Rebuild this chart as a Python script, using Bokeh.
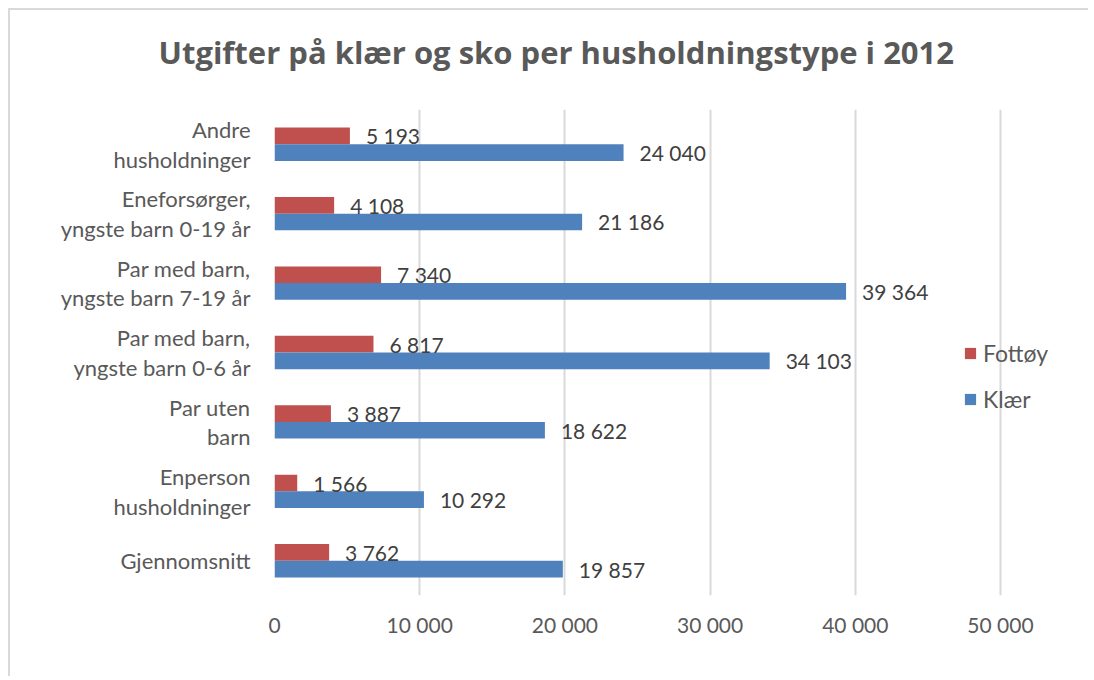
from bokeh.plotting import figure
from bokeh.models import ColumnDataSource, FixedTicker, Legend, LegendItem, Title
from bokeh.transform import dodge
from bokeh.core.properties import value
from bokeh.embed import file_html
from bokeh.resources import INLINE

# ---- data ----
categories = [
    "Gjennomsnitt",
    "Enperson\nhusholdninger",
    "Par uten\nbarn",
    "Par med barn,\nyngste barn 0-6 år",
    "Par med barn,\nyngste barn 7-19 år",
    "Eneforsørger,\nyngste barn 0-19 år",
    "Andre\nhusholdninger",
]
fottoy = [3762, 1566, 3887, 6817, 7340, 4108, 5193]
klaer = [19857, 10292, 18622, 34103, 39364, 21186, 24040]
x_ticks = [0, 10000, 20000, 30000, 40000, 50000]
x_tick_labels = ["0", "10 000", "20 000", "30 000", "40 000", "50 000"]
title_text = "Utgifter på klær og sko per husholdningstype i 2012"
series_names = ["Fottøy", "Klær"]

RED = "#C0504D"
BLUE = "#4F81BD"
GRID = "#d9d9d9"
TXT = "#595959"
FONT = "Lato"


def fmt(v):
    return f"{v:,}".replace(",", " ")


src = ColumnDataSource(dict(
    cat=categories,
    fottoy=fottoy,
    klaer=klaer,
    fottoy_lbl=[fmt(v) for v in fottoy],
    klaer_lbl=[fmt(v) for v in klaer],
))

p = figure(
    width=1080, height=668,
    y_range=categories,
    x_range=(0, 56198),
    title=None,
    output_backend="svg",
    toolbar_location=None,
    min_border_left=264, min_border_right=0,
    min_border_top=98, min_border_bottom=83,
)
p.styles = {"margin-left": "8px", "margin-top": "8px",
            "border-left": "2px solid #d9d9d9", "border-top": "2px solid #d9d9d9"}
p.outline_line_color = None
p.background_fill_color = "white"
p.border_fill_color = "white"

bar_h = 0.24
r_f = p.hbar(y=dodge("cat", bar_h / 2, range=p.y_range), right="fottoy", left=0,
             height=bar_h, source=src, fill_color=RED, line_color=None)
r_k = p.hbar(y=dodge("cat", -bar_h / 2, range=p.y_range), right="klaer", left=0,
             height=bar_h, source=src, fill_color=BLUE, line_color=None)

p.text(x="fottoy", y=dodge("cat", bar_h / 2, range=p.y_range), text="fottoy_lbl",
       source=src, x_offset=16, text_baseline="middle", text_align="left",
       text_font=value(FONT), text_font_size="21px", text_color="#404040")
p.text(x="klaer", y=dodge("cat", -bar_h / 2, range=p.y_range), text="klaer_lbl",
       source=src, x_offset=16, text_baseline="middle", text_align="left",
       text_font=value(FONT), text_font_size="21px", text_color="#404040")

# axes
p.xaxis.ticker = FixedTicker(ticks=x_ticks)
p.xaxis.major_label_overrides = {t: l for t, l in zip(x_ticks, x_tick_labels)}
p.xaxis.axis_line_color = None
p.xaxis.major_tick_line_color = None
p.xaxis.minor_tick_line_color = None
p.xaxis.major_label_standoff = 10
p.xaxis.major_label_text_font = FONT
p.xaxis.major_label_text_font_size = "21px"
p.xaxis.major_label_text_color = TXT

p.yaxis.axis_line_color = None
p.yaxis.major_tick_line_color = None
p.yaxis.minor_tick_line_color = None
p.yaxis.major_label_standoff = 18
p.yaxis.major_label_text_font = FONT
p.yaxis.major_label_text_font_size = "22px"
p.yaxis.major_label_text_line_height = 1.1
p.yaxis.major_label_text_align = "center"
p.yaxis.major_label_text_color = TXT

p.xgrid.grid_line_color = GRID
p.xgrid.grid_line_width = 2
p.xgrid.ticker = FixedTicker(ticks=x_ticks)
p.ygrid.grid_line_color = None

# spacer between frame and title, then the title itself
spacer = Title(text=" ", text_font_size="15px", standoff=0)
p.add_layout(spacer, "above")
main_title = Title(text=title_text, align="left", offset=-116, standoff=36,
                   vertical_align="bottom", text_font="Open Sans",
                   text_font_style="bold", text_font_size="31px", text_color=TXT)
p.add_layout(main_title, "above")

# legend
legend = Legend(items=[LegendItem(label=series_names[0], renderers=[r_f]),
                       LegendItem(label=series_names[1], renderers=[r_k])],
                location=(689, 182))
legend.glyph_width = 14
legend.glyph_height = 14
legend.label_standoff = 6
legend.label_height = 24
legend.spacing = 18
legend.padding = 0
legend.margin = 0
legend.border_line_color = None
legend.background_fill_alpha = 0
legend.label_text_font = FONT
legend.label_text_font_size = "23px"
legend.label_text_color = TXT
p.add_layout(legend, "center")

open("out.html", "w").write(file_html(p, INLINE))
